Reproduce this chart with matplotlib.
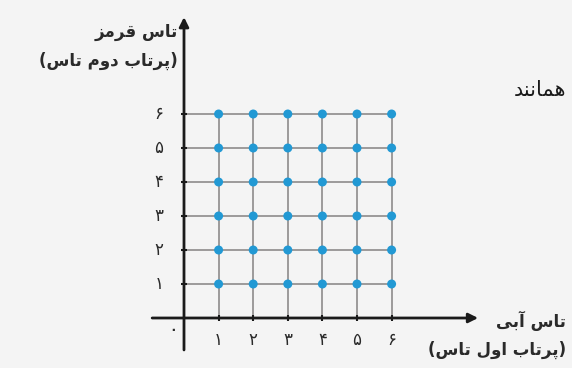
import numpy as np
import matplotlib.pyplot as plt

# Data: every outcome of throwing two dice
blue_die = [1, 2, 3, 4, 5, 6]
red_die = [1, 2, 3, 4, 5, 6]
x_labels = ['۱', '۲', '۳', '۴', '۵', '۶']
y_labels = ['۱', '۲', '۳', '۴', '۵', '۶']
zero_label = '۰'

# Minimal Persian shaping (matplotlib has no bidi/joining support)
FORMS = {
    'ا': ('\uFE8D', '\uFE8E', None, None),
    'آ': ('\uFE81', '\uFE82', None, None),
    'ب': ('\uFE8F', '\uFE90', '\uFE91', '\uFE92'),
    'پ': ('\uFB56', '\uFB57', '\uFB58', '\uFB59'),
    'ت': ('\uFE95', '\uFE96', '\uFE97', '\uFE98'),
    'د': ('\uFEA9', '\uFEAA', None, None),
    'ر': ('\uFEAD', '\uFEAE', None, None),
    'ز': ('\uFEAF', '\uFEB0', None, None),
    'س': ('\uFEB1', '\uFEB2', '\uFEB3', '\uFEB4'),
    'ق': ('\uFED5', '\uFED6', '\uFED7', '\uFED8'),
    'ل': ('\uFEDD', '\uFEDE', '\uFEDF', '\uFEE0'),
    'م': ('\uFEE1', '\uFEE2', '\uFEE3', '\uFEE4'),
    'ن': ('\uFEE5', '\uFEE6', '\uFEE7', '\uFEE8'),
    'ه': ('\uFEE9', '\uFEEA', '\uFEEB', '\uFEEC'),
    'و': ('\uFEED', '\uFEEE', None, None),
    'ی': ('\uFBFC', '\uFBFD', '\uFBFE', '\uFBFF'),
}


def joins_next(c):
    return c in FORMS and FORMS[c][2] is not None


def shape(text):
    out = []
    for i, c in enumerate(text):
        if c not in FORMS:
            out.append(c)
            continue
        prev_c = text[i - 1] if i > 0 else ' '
        next_c = text[i + 1] if i < len(text) - 1 else ' '
        from_prev = joins_next(prev_c)
        to_next = joins_next(c) and next_c in FORMS
        iso, fin, ini, med = FORMS[c]
        if from_prev and to_next:
            out.append(med)
        elif from_prev:
            out.append(fin)
        elif to_next:
            out.append(ini)
        else:
            out.append(iso)
    return ''.join(out)[::-1]


def paren(text):
    return '(' + shape(text) + ')'


plt.rcParams['font.family'] = ['DejaVu Sans']

fig = plt.figure(figsize=(5.72, 3.68), dpi=100, facecolor='#f4f4f4')
ax = fig.add_axes([0, 0, 1, 1])
ax.set_facecolor('#f4f4f4')
# origin at pixel (184, 318), unit = 34.6 px horizontally, 34 px vertically
ax.set_xlim(-184 / 34.6, (572 - 184) / 34.6)
ax.set_ylim(-(368 - 318) / 34.0, 318 / 34.0)
ax.axis('off')

# grid lines up to 6
for v in red_die:
    ax.plot([0, max(blue_die)], [v, v], color='#9c9a9a', lw=1.4, zorder=1)
for v in blue_die:
    ax.plot([v, v], [0, max(red_die)], color='#9c9a9a', lw=1.4, zorder=1)

# axes with arrows
ax.annotate('', xy=(8.5, 0), xytext=(-0.92, 0),
            arrowprops=dict(arrowstyle='-|>', color='#1a1a1a', lw=2,
                            mutation_scale=14, shrinkA=0, shrinkB=0), zorder=2)
ax.annotate('', xy=(0, 8.85), xytext=(0, -0.94),
            arrowprops=dict(arrowstyle='-|>', color='#1a1a1a', lw=2,
                            mutation_scale=14, shrinkA=0, shrinkB=0), zorder=2)

# small tick marks on axes
ax.plot(blue_die, [0] * len(blue_die), ls='none', marker='|', ms=5,
        mew=1.5, color='#1a1a1a', zorder=3)
ax.plot([0] * len(red_die), red_die, ls='none', marker='_', ms=5,
        mew=1.5, color='#1a1a1a', zorder=3)

# all outcomes
gx, gy = np.meshgrid(blue_die, red_die)
ax.scatter(gx.ravel(), gy.ravel(), s=42, color='#2299d4', zorder=4,
           edgecolors='none')

# tick labels
for v, lab in zip(blue_die, x_labels):
    ax.text(v, -0.66, lab, ha='center', va='center', fontsize=12,
            color='#2a2a2a')
for v, lab in zip(red_die, y_labels):
    ax.text(-0.72, v, lab, ha='center', va='center', fontsize=12,
            color='#2a2a2a')
ax.text(-0.32, -0.38, zero_label, ha='center', va='center', fontsize=9,
        color='#2a2a2a', fontweight='bold')

# axis titles
tstyle = dict(fontsize=12, color='#2a2a2a', fontweight='bold')
ax.text(-0.18, 8.4, shape('تاس قرمز'), ha='right', va='center', **tstyle)
ax.text(-0.18, 7.55, paren('پرتاب دوم تاس'), ha='right', va='center',
        **tstyle)
right_edge = (566 - 184) / 34.6
ax.text(right_edge, -0.1, shape('تاس آبی'), ha='right', va='center',
        **tstyle)
ax.text(right_edge, -0.95, paren('پرتاب اول تاس'), ha='right', va='center',
        **tstyle)

# partial word from surrounding page
ax.text(right_edge, 6.7, shape('همانند'), ha='right', va='center',
        fontsize=15, color='#1a1a1a')

fig.savefig('out.png', dpi=100, facecolor=fig.get_facecolor())
